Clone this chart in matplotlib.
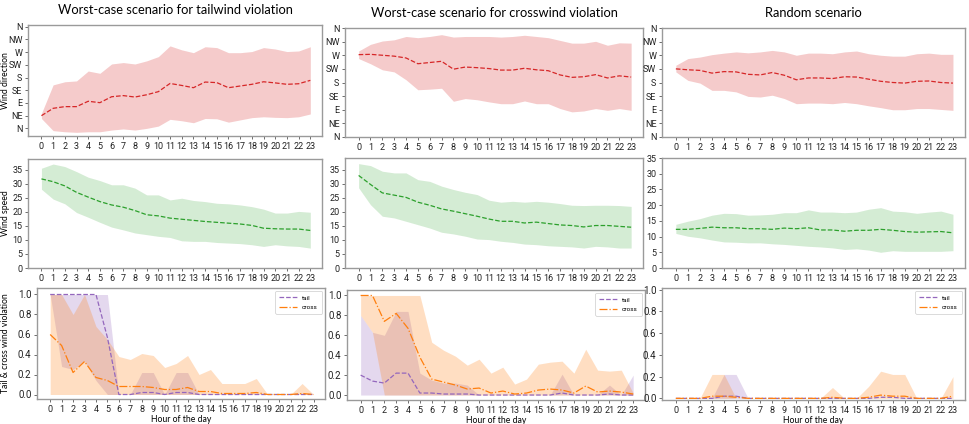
import matplotlib
matplotlib.use('Agg')
import matplotlib.pyplot as plt
import numpy as np

plt.rcParams['font.family'] = ['Roboto', 'DejaVu Sans']
LABEL_FONT = ['Lato', 'DejaVu Sans']

hours = list(range(24))

dir_labels = ['N', 'NE', 'E', 'SE', 'S', 'SW', 'W', 'NW', 'N']
dir_ticks = [0, 45, 90, 135, 180, 225, 270, 315, 360]

titles = ['Worst-case scenario for tailwind violation',
          'Worst-case scenario for crosswind violation',
          'Random scenario']

# wind direction (degrees): mean, upper, lower
tail_dir_mean = [45, 71, 77, 77, 96, 91, 112, 116, 111, 119, 130, 159, 152, 144, 164, 162, 144, 150, 156, 165, 161, 156, 158, 170]
tail_dir_hi = [53, 154, 165, 168, 203, 195, 228, 233, 228, 239, 254, 292, 278, 268, 289, 286, 268, 268, 272, 286, 281, 272, 274, 289]
tail_dir_lo = [35, -8, -12, -14, -12, -12, -6, -2, -6, 0, 8, 32, 27, 20, 35, 34, 22, 30, 38, 41, 39, 38, 41, 51]

cross_dir_mean = [272, 273, 270, 267, 261, 242, 246, 250, 224, 231, 229, 226, 221, 221, 227, 222, 219, 205, 197, 199, 206, 195, 202, 198]
cross_dir_hi = [284, 306, 317, 321, 332, 328, 332, 338, 330, 332, 332, 332, 330, 332, 336, 332, 328, 319, 310, 310, 316, 303, 311, 310]
cross_dir_lo = [259, 242, 222, 215, 189, 156, 158, 161, 118, 127, 123, 116, 110, 110, 119, 110, 110, 94, 83, 86, 94, 88, 94, 88]

rand_dir_mean = [225, 222, 220, 211, 216, 215, 207, 205, 213, 204, 189, 195, 195, 193, 199, 198, 191, 184, 180, 178, 184, 185, 180, 178]
rand_dir_hi = [237, 259, 264, 272, 277, 281, 278, 281, 286, 281, 270, 277, 277, 275, 281, 284, 275, 270, 267, 267, 275, 277, 273, 273]
rand_dir_lo = [215, 187, 178, 154, 154, 149, 134, 132, 138, 127, 110, 112, 112, 110, 114, 110, 103, 97, 90, 90, 94, 94, 91, 88]

# wind speed
tail_spd_mean = [31.8, 30.8, 29.3, 27.0, 25.3, 23.7, 22.5, 21.7, 20.5, 19.0, 18.6, 17.8, 17.4, 17.0, 16.6, 16.3, 16.0, 15.7, 15.2, 14.2, 14.0, 13.9, 13.9, 13.4]
tail_spd_hi = [35.6, 37.1, 36.2, 34.4, 32.4, 31.2, 29.7, 29.7, 28.5, 26.1, 26.1, 24.3, 24.9, 24.1, 23.7, 23.1, 22.9, 22.5, 21.9, 21.0, 19.6, 19.6, 20.2, 19.9]
tail_spd_lo = [28.1, 24.6, 22.9, 19.8, 18.1, 16.3, 14.6, 13.6, 12.5, 11.9, 11.3, 10.9, 9.7, 9.5, 9.5, 9.1, 8.9, 8.7, 8.3, 7.7, 8.3, 7.9, 7.7, 7.1]

cross_spd_mean = [32.9, 29.7, 26.7, 25.9, 25.1, 23.4, 22.3, 21.0, 20.2, 19.3, 18.4, 17.4, 16.6, 16.6, 16.0, 16.3, 15.8, 15.3, 15.1, 14.6, 15.1, 15.1, 14.8, 14.5]
cross_spd_hi = [37.1, 36.4, 34.4, 33.8, 33.8, 31.4, 30.8, 29.1, 27.9, 26.9, 26.1, 24.1, 23.4, 23.7, 23.4, 23.7, 23.4, 22.9, 22.3, 22.2, 22.3, 22.3, 22.2, 21.9]
cross_spd_lo = [28.5, 22.5, 18.4, 17.8, 16.6, 15.4, 14.2, 12.7, 12.1, 11.3, 10.3, 10.1, 9.5, 9.1, 8.5, 8.3, 7.9, 7.7, 7.5, 7.1, 7.7, 7.5, 7.1, 7.1]

rand_spd_mean = [12.3, 12.3, 12.6, 13.0, 12.8, 12.8, 12.5, 12.5, 12.3, 12.7, 12.5, 12.8, 12.1, 12.1, 11.7, 12.0, 12.0, 12.3, 12.0, 11.6, 11.4, 11.5, 11.6, 11.2]
rand_spd_hi = [13.9, 14.9, 15.7, 16.8, 17.4, 17.3, 16.8, 16.9, 17.1, 17.6, 17.6, 18.5, 17.8, 17.8, 17.6, 17.8, 18.7, 19.2, 18.1, 17.9, 17.4, 17.8, 18.1, 17.1]
rand_spd_lo = [11.0, 10.1, 9.6, 8.9, 8.3, 8.2, 8.0, 8.0, 7.7, 7.5, 7.2, 6.9, 6.7, 6.4, 5.9, 6.1, 5.7, 5.0, 5.5, 5.3, 5.3, 5.3, 5.3, 5.5]

# violation probability, tailwind worst case
tw_tail_mean = [1.0, 1.0, 1.0, 1.0, 1.0, 0.57, 0, 0, 0.02, 0.02, 0, 0.02, 0.02, 0, 0, 0, 0, 0, 0, 0, 0, 0, 0, 0]
tw_tail_hi = [1.0, 1.0, 1.0, 1.0, 1.0, 1.0, 0, 0, 0.22, 0.22, 0, 0.22, 0.22, 0, 0, 0, 0, 0, 0, 0, 0, 0, 0, 0]
tw_tail_lo = [1.0, 0.28, 0.25, 0.33, 0.14, 0, 0, 0, 0, 0, 0, 0, 0, 0, 0, 0, 0, 0, 0, 0, 0, 0, 0, 0]
tw_cross_mean = [0.6, 0.49, 0.22, 0.33, 0.17, 0.14, 0.08, 0.08, 0.08, 0.07, 0.05, 0.05, 0.07, 0.03, 0.03, 0.01, 0.01, 0.01, 0.02, 0, 0, 0, 0.01, 0]
tw_cross_hi = [1.0, 1.0, 0.8, 1.0, 0.68, 0.55, 0.38, 0.35, 0.41, 0.39, 0.27, 0.31, 0.39, 0.2, 0.25, 0.11, 0.11, 0.11, 0.16, 0, 0, 0, 0.11, 0]
tw_cross_lo = [0] * 24

# crosswind worst case
cw_tail_mean = [0.2, 0.14, 0.12, 0.22, 0.22, 0.02, 0.02, 0.01, 0.01, 0.01, 0, 0, 0, 0, 0, 0, 0, 0.02, 0, 0, 0, 0.01, 0, 0]
cw_tail_hi = [0.8, 0.63, 0.6, 0.84, 0.84, 0.22, 0.15, 0.12, 0.12, 0.1, 0, 0, 0, 0, 0, 0, 0, 0.21, 0, 0, 0, 0.1, 0, 0.2]
cw_tail_lo = [0] * 24
cw_cross_mean = [1.0, 1.0, 0.74, 0.82, 0.67, 0.38, 0.16, 0.13, 0.1, 0.06, 0.07, 0.02, 0.04, 0.01, 0.02, 0.05, 0.06, 0.05, 0.02, 0.09, 0.03, 0.04, 0.03, 0.01]
cw_cross_hi = [1.0, 1.0, 1.0, 1.0, 1.0, 1.0, 0.53, 0.45, 0.39, 0.3, 0.36, 0.22, 0.28, 0.11, 0.16, 0.31, 0.33, 0.34, 0.22, 0.46, 0.25, 0.24, 0.25, 0.02]
cw_cross_lo = [0.8, 0.63, 0, 0, 0, 0, 0, 0, 0, 0, 0, 0, 0, 0, 0, 0, 0, 0, 0, 0, 0, 0, 0, 0]

# random scenario
rn_tail_mean = [0, 0, 0, 0, 0.02, 0.02, 0, 0, 0, 0, 0, 0, 0, 0, 0, 0, 0, 0.01, 0.01, 0, 0, 0, 0, 0]
rn_tail_hi = [0, 0, 0, 0, 0.22, 0.22, 0, 0, 0, 0, 0, 0, 0, 0, 0, 0, 0, 0, 0, 0, 0, 0, 0, 0]
rn_tail_lo = [0] * 24
rn_cross_mean = [0, 0, 0, 0.02, 0.02, 0.01, 0, 0, 0, 0, 0, 0, 0, 0.01, 0, 0, 0.01, 0.03, 0.02, 0.02, 0, 0, 0, 0.02]
rn_cross_hi = [0, 0, 0, 0.22, 0.22, 0, 0, 0, 0, 0, 0, 0, 0, 0.1, 0, 0, 0.11, 0.25, 0.22, 0.22, 0, 0, 0, 0.2]
rn_cross_lo = [0] * 24

W, H = 969, 424
TICK_FS = 6.5
LABEL_FS = 6.2
SPINE_C = '#9a9a9a'


def px_axes(fig, l, t, r, b):
    return fig.add_axes([l / W, 1 - b / H, (r - l) / W, (b - t) / H])


def style_axes(ax, ysize=TICK_FS):
    for s in ax.spines.values():
        s.set_color(SPINE_C)
        s.set_linewidth(1.0)
    ax.tick_params(labelsize=TICK_FS, length=2.5, width=0.6, color='#555555',
                   labelcolor='#222222', pad=1.5)
    ax.tick_params(axis='y', labelsize=ysize)
    ax.set_xticks(hours)
    ax.set_xlim(-1.15, 24.0)


def band(ax, mean, lo, hi, color, ls, alpha, label=None):
    ax.fill_between(hours, lo, hi, color=color, alpha=alpha, linewidth=0)
    ax.plot(hours, mean, ls=ls, color=color, lw=0.9, label=label)


fig = plt.figure(figsize=(W / 100, H / 100), dpi=100)

dir_rects = [(28, 25, 322, 136), (345, 28, 643, 137), (662, 28, 965, 137)]
spd_rects = [(28, 159, 322, 268), (345, 158, 643, 268), (662, 158, 965, 268)]
vio_rects = [(37, 288, 325, 399), (347, 290, 645, 400), (662, 288, 965, 400)]

dir_data = [(tail_dir_mean, tail_dir_lo, tail_dir_hi),
            (cross_dir_mean, cross_dir_lo, cross_dir_hi),
            (rand_dir_mean, rand_dir_lo, rand_dir_hi)]
dir_ylims = [(-27, 366), (0, 360), (0, 360)]

spd_data = [(tail_spd_mean, tail_spd_lo, tail_spd_hi),
            (cross_spd_mean, cross_spd_lo, cross_spd_hi),
            (rand_spd_mean, rand_spd_lo, rand_spd_hi)]
spd_ylims = [(0, 38.9), (0, 39.1), (0, 35)]

vio_data = [(tw_tail_mean, tw_tail_lo, tw_tail_hi, tw_cross_mean, tw_cross_lo, tw_cross_hi),
            (cw_tail_mean, cw_tail_lo, cw_tail_hi, cw_cross_mean, cw_cross_lo, cw_cross_hi),
            (rn_tail_mean, rn_tail_lo, rn_tail_hi, rn_cross_mean, rn_cross_lo, rn_cross_hi)]
vio_ylims = [(-0.045, 1.065), (-0.05, 1.055), (-0.015, 1.015)]

for i in range(3):
    # wind direction
    ax = px_axes(fig, *dir_rects[i])
    m, lo, hi = dir_data[i]
    band(ax, m, lo, hi, 'tab:red', '--', 0.24)
    style_axes(ax)
    ax.set_yticks(dir_ticks)
    ax.set_yticklabels(dir_labels)
    ax.set_ylim(*dir_ylims[i])
    ax.set_title(titles[i], fontsize=9.3, family=LABEL_FONT, pad=8)
    if i == 0:
        ax.set_ylabel('Wind direction', fontsize=LABEL_FS, family=LABEL_FONT)
        ax.yaxis.set_label_coords(-18 / 294, 0.5)

    # wind speed
    ax = px_axes(fig, *spd_rects[i])
    m, lo, hi = spd_data[i]
    band(ax, m, lo, hi, 'tab:green', '--', 0.2)
    style_axes(ax)
    ax.set_yticks(range(0, 36, 5))
    ax.set_ylim(*spd_ylims[i])
    if i == 0:
        ax.set_ylabel('Wind speed', fontsize=LABEL_FS, family=LABEL_FONT)
        ax.yaxis.set_label_coords(-18 / 294, 0.5)

    # violation
    ax = px_axes(fig, *vio_rects[i])
    tm, tlo, thi, cm, clo, chi = vio_data[i]
    ax.fill_between(hours, tlo, thi, color='tab:purple', alpha=0.25, linewidth=0)
    ax.fill_between(hours, clo, chi, color='tab:orange', alpha=0.25, linewidth=0)
    ax.plot(hours, tm, ls='--', color='tab:purple', lw=0.9, label='tail')
    ax.plot(hours, cm, ls='-.', color='tab:orange', lw=0.9, label='cross')
    style_axes(ax, ysize=7.0)
    ax.set_yticks([0, 0.2, 0.4, 0.6, 0.8, 1.0])
    ax.set_yticklabels(['0.0', '0.2', '0.4', '0.6', '0.8', '1.0'])
    ax.set_ylim(*vio_ylims[i])
    ax.set_xlabel('Hour of the day', fontsize=LABEL_FS, family=LABEL_FONT, labelpad=1)
    if i == 0:
        ax.set_ylabel('Tail & cross wind violation', fontsize=LABEL_FS, family=LABEL_FONT)
        ax.yaxis.set_label_coords(-27 / 288, 0.5)
    leg = ax.legend(loc='upper right', fontsize=4.6, handlelength=2.8,
                    borderpad=0.6, labelspacing=0.6, framealpha=1)
    leg.get_frame().set_edgecolor('#cccccc')
    leg.get_frame().set_linewidth(0.5)

fig.savefig('out.png', dpi=100)
